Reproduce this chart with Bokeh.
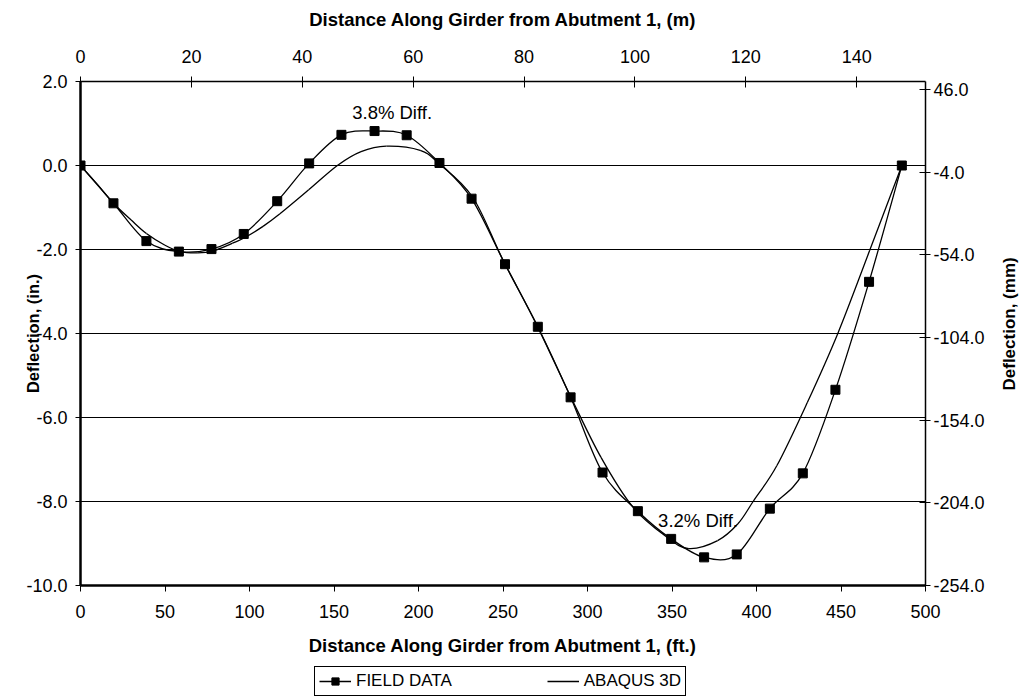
import math
import numpy as np
from bokeh.plotting import figure
from bokeh.layouts import column, row
from bokeh.models import (Range1d, LinearAxis, FixedTicker, PrintfTickFormatter,
                          Legend, LegendItem, Label, ColumnDataSource)
from bokeh.embed import file_html
from bokeh.resources import INLINE

# ---- data ----
field_ft = [0, 19.5, 39.0, 58.2, 77.5, 96.6, 116.4, 135.3, 154.4, 174.0, 193.0,
            212.4, 231.4, 251.2, 270.6, 290.0, 308.9, 329.8, 349.5, 369.0, 388.3,
            407.9, 427.4, 446.7, 466.6, 486.0]
field_in = [0.0, -0.90, -1.80, -2.05, -1.99, -1.63, -0.85, 0.05, 0.73, 0.82, 0.72,
            0.06, -0.79, -2.35, -3.84, -5.52, -7.31, -8.23, -8.89, -9.33, -9.26,
            -8.17, -7.33, -5.34, -2.77, 0.0]

abaqus_ft = [0, 10, 19.5, 30, 39, 50, 59, 69, 78, 90, 97, 108, 118, 135, 152, 166,
             181, 201, 212, 232, 250, 270, 290, 308, 327, 347, 360, 377, 389, 398,
             412, 430, 448, 467, 486]
abaqus_in = [0.0, -0.45, -0.90, -1.30, -1.62, -1.90, -2.05, -2.08, -2.04, -1.85,
             -1.72, -1.45, -1.15, -0.58, 0.0, 0.33, 0.46, 0.36, 0.05, -0.75, -2.25,
             -3.80, -5.50, -6.95, -8.14, -8.85, -9.12, -8.93, -8.53, -8.00, -7.15,
             -5.65, -4.01, -2.02, 0.0]

bottom_ticks = [0, 50, 100, 150, 200, 250, 300, 350, 400, 450, 500]
top_ticks = [0, 20, 40, 60, 80, 100, 120, 140]
left_ticks = [2.0, 0.0, -2.0, -4.0, -6.0, -8.0, -10.0]
right_ticks = [46.0, -4.0, -54.0, -104.0, -154.0, -204.0, -254.0]
grid_ticks = [0.0, -2.0, -4.0, -6.0, -8.0]

FT_TO_M = 0.3048
IN_TO_MM = 25.4
FONT = "Liberation Sans"


def bezier_source(xs, ys):
    """Catmull-Rom segments expressed as cubic Bezier control points."""
    x = np.asarray(xs, float)
    y = np.asarray(ys, float)
    xp = np.concatenate([[x[0]], x, [x[-1]]])
    yp = np.concatenate([[y[0]], y, [y[-1]]])
    n = len(x) - 1
    d = dict(x0=[], y0=[], x1=[], y1=[], cx0=[], cy0=[], cx1=[], cy1=[])
    for i in range(n):
        p0x, p0y = xp[i], yp[i]
        p1x, p1y = xp[i + 1], yp[i + 1]
        p2x, p2y = xp[i + 2], yp[i + 2]
        p3x, p3y = xp[i + 3], yp[i + 3]
        d["x0"].append(p1x); d["y0"].append(p1y)
        d["x1"].append(p2x); d["y1"].append(p2y)
        d["cx0"].append(p1x + (p2x - p0x) / 6.0)
        d["cy0"].append(p1y + (p2y - p0y) / 6.0)
        d["cx1"].append(p2x - (p3x - p1x) / 6.0)
        d["cy1"].append(p2y - (p3y - p1y) / 6.0)
    return ColumnDataSource(d)


W = 1023
RW = 28          # strip on the right that carries the upward-reading mm title
p = figure(width=W - RW, height=664,
           x_range=Range1d(0, 500), y_range=Range1d(-10, 2),
           output_backend="svg", toolbar_location=None,
           min_border_left=80, min_border_right=70,
           min_border_top=81, min_border_bottom=79)
p.extra_x_ranges = {"m": Range1d(0, 500 * FT_TO_M)}
p.extra_y_ranges = {"mm": Range1d(-10 * IN_TO_MM, 2 * IN_TO_MM)}
p.outline_line_color = None
p.background_fill_color = "white"
p.border_fill_color = "white"

p.xgrid.visible = False
p.ygrid.ticker = FixedTicker(ticks=grid_ticks)
p.ygrid.grid_line_color = "black"
p.ygrid.grid_line_width = 1
p.ygrid.grid_line_alpha = 1.0


def style_axis(ax, lw, label_size):
    ax.axis_line_color = "black"
    ax.axis_line_width = lw
    ax.major_tick_line_color = "black"
    ax.major_tick_line_width = 1
    ax.minor_tick_line_color = None
    ax.major_label_text_font = FONT
    ax.major_label_text_font_size = "18px"
    ax.major_label_text_color = "black"
    ax.axis_label_text_font = FONT
    ax.axis_label_text_font_size = label_size
    ax.axis_label_text_font_style = "bold"
    ax.axis_label_text_color = "black"


# bottom axis (ft)
xb = p.xaxis[0]
xb.ticker = FixedTicker(ticks=bottom_ticks)
xb.axis_label = "Distance Along Girder from Abutment 1, (ft.)"
style_axis(xb, 2.5, "18.5px")
xb.major_tick_in = 0
xb.major_tick_out = 6
xb.major_label_standoff = 13
xb.axis_label_standoff = 14

# left axis (in.)
yl = p.yaxis[0]
yl.ticker = FixedTicker(ticks=left_ticks)
yl.formatter = PrintfTickFormatter(format="%.1f")
yl.axis_label = "Deflection, (in.)"
style_axis(yl, 2.5, "16.5px")
yl.major_tick_in = 0
yl.major_tick_out = 5
yl.major_label_standoff = 8
yl.axis_label_standoff = -19

# top axis (m)
xt = LinearAxis(x_range_name="m", ticker=FixedTicker(ticks=top_ticks),
                axis_label="Distance Along Girder from Abutment 1, (m)")
style_axis(xt, 1.5, "18.5px")
xt.major_tick_in = 6
xt.major_tick_out = 5
xt.major_label_standoff = 14
xt.axis_label_standoff = 17
p.add_layout(xt, "above")

# right axis (mm)
yr = LinearAxis(y_range_name="mm", ticker=FixedTicker(ticks=right_ticks),
                formatter=PrintfTickFormatter(format="%.1f"))
style_axis(yr, 1.5, "17px")
yr.major_tick_in = 6
yr.major_tick_out = 5
yr.major_label_standoff = 3
p.add_layout(yr, "right")

# series
ab_src = bezier_source(abaqus_ft, abaqus_in)
p.bezier(x0="x0", y0="y0", x1="x1", y1="y1", cx0="cx0", cy0="cy0",
         cx1="cx1", cy1="cy1", source=ab_src, line_color="black", line_width=1.3)

fd_src = bezier_source(field_ft, field_in)
p.bezier(x0="x0", y0="y0", x1="x1", y1="y1", cx0="cx0", cy0="cy0",
         cx1="cx1", cy1="cy1", source=fd_src, line_color="black", line_width=1.3)
p.scatter(x=field_ft, y=field_in, marker="square", size=9,
          fill_color="black", line_color="black")

# annotations
p.add_layout(Label(x=184.4, y=1.27, text="3.8% Diff.", text_align="center",
                   text_baseline="middle", text_font=FONT, text_font_size="18.5px",
                   text_color="black"))
p.add_layout(Label(x=365.4, y=-8.45, text="3.2% Diff.", text_align="center",
                   text_baseline="middle", text_font=FONT, text_font_size="18.5px",
                   text_color="black"))

# right strip: mm axis title reading upward
pr = figure(width=RW, height=664, x_range=Range1d(0, 1), y_range=Range1d(0, 1),
            output_backend="svg", toolbar_location=None,
            x_axis_location=None, y_axis_location=None, min_border=0)
pr.outline_line_color = None
pr.grid.visible = False
pr.add_layout(Label(x=0.5, y=0.519, text="Deflection, (mm)", angle=math.pi / 2,
                    text_align="center", text_baseline="middle", text_font=FONT,
                    text_font_size="17px", text_font_style="bold", text_color="black"))

# legend strip below the chart (proxy renderers sit outside its visible range)
pl = figure(width=W, height=32, x_range=Range1d(-2000, -1000), y_range=Range1d(100, 101),
            output_backend="svg", toolbar_location=None,
            x_axis_location=None, y_axis_location=None,
            min_border_left=80, min_border_right=98, min_border_top=0, min_border_bottom=0)
pl.outline_line_color = None
pl.grid.visible = False
lg_fd_line = pl.line(x=field_ft, y=field_in, line_color="black", line_width=1.3)
lg_fd_pts = pl.scatter(x=field_ft, y=field_in, marker="square", size=7,
                       fill_color="black", line_color="black")
lg_ab_line = pl.line(x=abaqus_ft, y=abaqus_in, line_color="black", line_width=1.3)

legend = Legend(items=[LegendItem(label="FIELD DATA", renderers=[lg_fd_line, lg_fd_pts]),
                       LegendItem(label="ABAQUS 3D", renderers=[lg_ab_line])],
                orientation="horizontal", location=(234, 0),
                border_line_color="black", border_line_width=1, border_line_alpha=1.0,
                spacing=95, glyph_width=32, glyph_height=18, label_height=18,
                padding=4, margin=0,
                label_text_font=FONT, label_text_font_size="17px",
                label_text_color="black",
                label_standoff=5, background_fill_color="white")
pl.add_layout(legend, "center")

layout = column(row(p, pr, spacing=0), pl, spacing=0)
open("out.html", "w").write(file_html(layout, INLINE))
